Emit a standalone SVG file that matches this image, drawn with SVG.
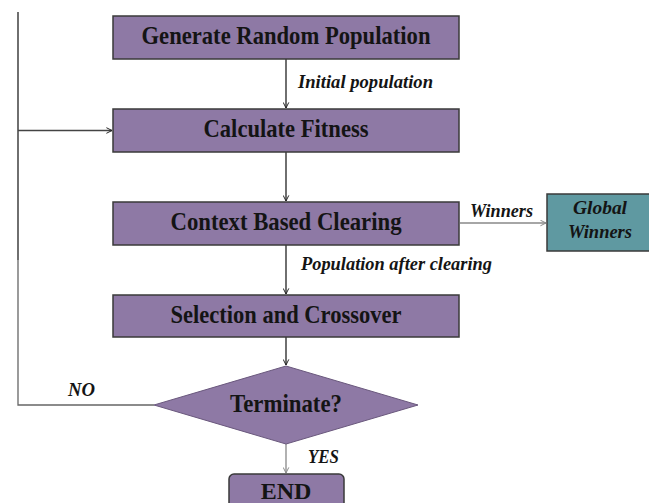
<svg xmlns="http://www.w3.org/2000/svg" width="649" height="503" viewBox="0 0 649 503">
<style>
.box{fill:#8E79A5;stroke:#3a3a3a;stroke-width:1.5}
.gw{fill:#5F99A1;stroke:#3a3a3a;stroke-width:1.5}
.dia{fill:#8E79A5;stroke:#6a587d;stroke-width:1}
.t{font-family:"Liberation Serif","Times New Roman",serif;font-weight:bold;font-size:24.5px;fill:#141414;text-anchor:middle}
.lbl{font-family:"Liberation Serif","Times New Roman",serif;font-weight:bold;font-style:italic;font-size:19px;fill:#141414}
.c{fill:none;stroke:#222;stroke-width:1.3}
.cg{fill:none;stroke:#888;stroke-width:1.3}
</style>
<defs>
<marker id="ah" viewBox="0 0 10 10" refX="9" refY="5" markerWidth="7" markerHeight="7" markerUnits="userSpaceOnUse" orient="auto">
<polyline points="1,1 9,5 1,9" fill="none" stroke="#222" stroke-width="1.4"/>
</marker>
<marker id="ahg" viewBox="0 0 10 10" refX="9" refY="5" markerWidth="7" markerHeight="7" markerUnits="userSpaceOnUse" orient="auto">
<polyline points="1,1 9,5 1,9" fill="none" stroke="#888" stroke-width="1.4"/>
</marker>
</defs>
<g id="connectors">
<line class="c" x1="286" y1="59" x2="286" y2="108" marker-end="url(#ah)"/>
<line class="c" x1="286" y1="152" x2="286" y2="201" marker-end="url(#ah)"/>
<line class="c" x1="286" y1="245" x2="286" y2="294" marker-end="url(#ah)"/>
<line class="c" x1="286" y1="337" x2="286" y2="365" marker-end="url(#ah)"/>
<line class="cg" x1="286" y1="444" x2="286" y2="473" marker-end="url(#ahg)"/>
<line class="cg" x1="460" y1="223" x2="546" y2="223" marker-end="url(#ahg)"/>
<polyline class="c" points="154,405 18,405 18,260" style="stroke:#666"/>
<line class="c" x1="18" y1="260" x2="18" y2="12"/>
<line class="c" x1="18" y1="130.5" x2="112" y2="130.5" style="stroke:#444" marker-end="url(#ah)"/>
<text class="lbl" x="298" y="88" textLength="135" lengthAdjust="spacingAndGlyphs">Initial population</text>
<text class="lbl" x="301" y="270" textLength="191" lengthAdjust="spacingAndGlyphs">Population after clearing</text>
<text class="lbl" x="470" y="217" textLength="63" lengthAdjust="spacingAndGlyphs">Winners</text>
<text class="lbl" x="68" y="396" textLength="27" lengthAdjust="spacingAndGlyphs">NO</text>
<text class="lbl" x="308" y="463" textLength="31" lengthAdjust="spacingAndGlyphs">YES</text>
</g>
<g id="generate">
<rect class="box" x="113" y="16" width="346" height="43"/>
<text class="t" x="286" y="44" textLength="289" lengthAdjust="spacingAndGlyphs">Generate Random Population</text>
</g>
<g id="fitness">
<rect class="box" x="113" y="109" width="346" height="43"/>
<text class="t" x="286" y="137" textLength="165" lengthAdjust="spacingAndGlyphs">Calculate Fitness</text>
</g>
<g id="clearing">
<rect class="box" x="113" y="202" width="346" height="43"/>
<text class="t" x="286" y="230" textLength="231" lengthAdjust="spacingAndGlyphs">Context Based Clearing</text>
</g>
<g id="global-winners">
<rect class="gw" x="547" y="194" width="106" height="57"/>
<text class="lbl" x="600" y="214" text-anchor="middle" textLength="54" lengthAdjust="spacingAndGlyphs">Global</text>
<text class="lbl" x="600" y="238" text-anchor="middle" textLength="64" lengthAdjust="spacingAndGlyphs">Winners</text>
</g>
<g id="selection">
<rect class="box" x="113" y="295" width="346" height="42"/>
<text class="t" x="286" y="322.5" textLength="231" lengthAdjust="spacingAndGlyphs">Selection and Crossover</text>
</g>
<g id="terminate">
<polygon class="dia" points="286,366 418,405 286,444 154,405"/>
<text class="t" x="286" y="412" textLength="112" lengthAdjust="spacingAndGlyphs">Terminate?</text>
</g>
<g id="end">
<rect class="box" x="229" y="474" width="115" height="45" rx="5"/>
<text class="t" x="286" y="499" style="font-size:24px">END</text>
</g>
</svg>
